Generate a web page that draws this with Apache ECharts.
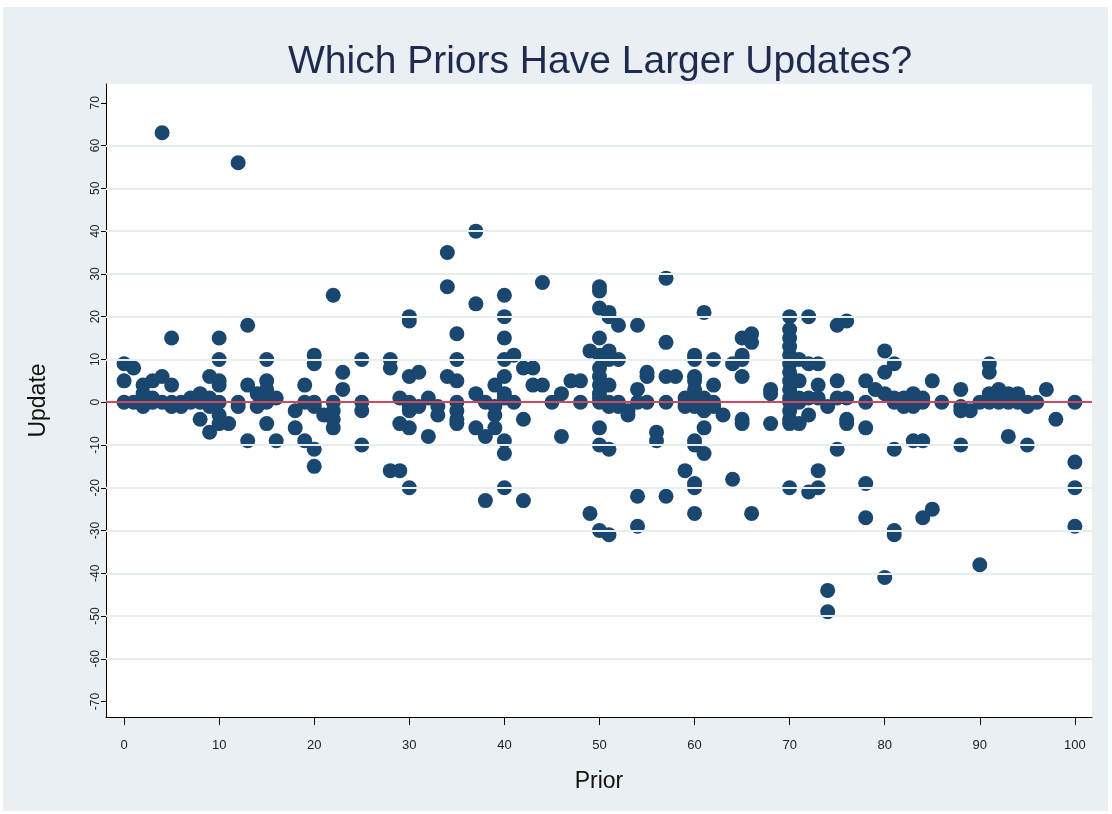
<!DOCTYPE html>
<html>
<head>
<meta charset="utf-8">
<title>Which Priors Have Larger Updates?</title>
<script src="https://cdn.jsdelivr.net/npm/echarts@6/dist/echarts.min.js"></script>
<style>
    html, body { margin: 0; padding: 0; background: #fff; }
    #chart { position: absolute; left: 3px; top: 7px; width: 1105px; height: 804px; }
</style>
</head>
<body>
<div id="chart"></div>
<script>
// prior (x) and update (y), one row per decade of prior
const prior = [
    0, 0, 0, 1, 1, 2, 2, 2, 2, 3, 3, 3, 4, 4, 4, 5, 5, 5, 5, 6, 6, 7, 7, 8, 8, 8, 9, 9, 9, 9, 9,
    10, 10, 10, 10, 10, 10, 10, 11, 12, 12, 12, 13, 13, 13, 14, 14, 15, 15, 15, 15, 15, 16, 16, 18, 18, 19, 19, 19,
    20, 20, 20, 20, 20, 20, 21, 22, 22, 22, 22, 22, 23, 23, 25, 25, 25, 25, 28, 28, 28, 29, 29, 29,
    30, 30, 30, 30, 30, 30, 30, 30, 31, 31, 32, 32, 33, 33, 34, 34, 34, 35, 35, 35, 35, 35, 35, 35, 37, 37, 37, 37, 38, 38, 38, 39, 39, 39, 39,
    40, 40, 40, 40, 40, 40, 40, 40, 40, 40, 41, 41, 42, 42, 42, 43, 43, 44, 44, 45, 46, 46, 47, 48, 48, 49, 49,
    50, 50, 50, 50, 50, 50, 50, 50, 50, 50, 50, 50, 50, 50, 51, 51, 51, 51, 51, 51, 51, 51, 51, 52, 52, 52, 52, 53, 53, 54, 54, 54, 54, 54, 55, 55, 55, 56, 56, 57, 57, 57, 57, 57, 58, 59, 59, 59, 59,
    60, 60, 60, 60, 60, 60, 60, 60, 60, 60, 60, 60, 60, 60, 61, 61, 61, 61, 61, 61, 62, 62, 62, 62, 63, 64, 64, 65, 65, 65, 65, 65, 65, 66, 66, 66, 68, 68, 68,
    70, 70, 70, 70, 70, 70, 70, 70, 70, 70, 70, 70, 70, 70, 70, 71, 71, 71, 71, 71, 72, 72, 72, 72, 72, 73, 73, 73, 73, 73, 74, 74, 74, 75, 75, 75, 75, 76, 76, 76, 76, 78, 78, 78, 78, 78, 79,
    80, 80, 80, 80, 81, 81, 81, 81, 81, 81, 82, 82, 83, 83, 83, 84, 84, 84, 84, 85, 85, 86, 88, 88, 88, 88, 89,
    90, 90, 91, 91, 91, 91, 92, 92, 93, 93, 93, 94, 94, 95, 95, 95, 96, 97, 98, 100, 100, 100, 100
]
const update = [
    9, 5, 0, 8, 0, 4, 2, 0, -1, 5, 1, 0, 63, 6, 0, 15, 4, 0, -1, 0, -1, 1, 0, 2, 0, -4, 6, 1, 0, -1, -7,
    15, 10, 5, 4, 0, -3, -5, -5, 56, 0, -1, 18, 4, -9, 2, -1, 10, 5, 3, 0, -5, 1, -9, -2, -6, 4, 0, -9,
    11, 9, 0, -1, -11, -15, -3, 25, 0, -2, -4, -6, 7, 3, 10, 0, -2, -10, 10, 8, -16, 1, -5, -16,
    20, 19, 6, 0, -1, -2, -6, -20, 7, -1, 1, -8, -1, -3, 35, 27, 6, 16, 10, 5, 0, -2, -4, -5, 40, 23, 2, -6, 0, -8, -23, 4, -1, -3, -6,
    25, 20, 15, 10, 6, 2, 1, -9, -12, -20, 11, 0, 8, -4, -23, 8, 4, 28, 4, 0, 2, -8, 5, 5, 0, 12, -26,
    27, 26, 22, 15, 11, 8, 6, 4, 2, 1, 0, -6, -10, -30, 21, 20, 12, 10, 4, 0, -1, -11, -31, 18, 10, 0, -1, -2, -3, 18, 3, 0, -22, -29, 7, 6, 0, -7, -9, 29, 14, 6, 0, -22, 6, 1, 0, -1, -16,
    11, 10, 6, 5, 3, 2, 1, 0, -1, -9, -10, -19, -20, -26, 21, 1, 0, -2, -6, -12, 10, 4, 0, -1, -3, 9, -18, 15, 11, 10, 6, -4, -5, 16, 14, -26, 3, 2, -5,
    20, 17, 15, 13, 11, 9, 7, 5, 3, 1, 0, -2, -4, -5, -20, 10, 5, 1, 0, -5, 20, 9, 1, -3, -21, 9, 4, 1, -16, -20, -1, -44, -49, 18, 5, 1, -11, 19, 1, -4, -5, 5, 0, -6, -19, -27, 3,
    12, 7, 2, -41, 9, 1, 0, -11, -30, -31, 1, -1, 2, -1, -9, 1, 0, -9, -27, 5, -25, 0, 3, -1, -2, -10, -2,
    0, -38, 9, 7, 2, 0, 3, 0, 2, 0, -8, 2, 0, 0, -1, -10, 0, 3, -4, 0, -14, -20, -29
]
const xTicks = [0, 10, 20, 30, 40, 50, 60, 70, 80, 90, 100]
const yTicks = [-70, -60, -50, -40, -30, -20, -10, 0, 10, 20, 30, 40, 50, 60, 70]
const gridValues = [-60, -50, -40, -30, -20, -10, 0, 10, 20, 30, 40, 50, 60]
const refLine = [0]

if (prior.length !== update.length) console.warn('length mismatch', prior.length, update.length)
const points = prior.map((p, i) => [p, update[i]])

const tickFont = '"Liberation Sans Narrow", "Liberation Sans", Arial, sans-serif'
const textFont = '"Liberation Sans", Arial, sans-serif'

const chart = echarts.init(document.getElementById('chart'))
chart.setOption({
    backgroundColor: '#e9eff2',
    animation: false,
    title: {
        text: 'Which Priors Have Larger Updates?',
        left: 280,
        top: 31,
        textStyle: { fontFamily: textFont, fontSize: 39, fontWeight: 'normal', color: '#1e2b4f' }
    },
    grid: {
        left: 103,
        top: 77,
        width: 986,
        height: 633,
        show: true,
        backgroundColor: '#ffffff',
        borderWidth: 0
    },
    xAxis: {
        type: 'value',
        min: -1.9,
        max: 101.8,
        name: 'Prior',
        nameLocation: 'middle',
        nameGap: 53,
        nameTextStyle: { fontFamily: textFont, fontSize: 23, color: '#111' },
        axisLine: { show: true, onZero: false, lineStyle: { color: '#000', width: 1 } },
        axisTick: { show: true, length: 8, customValues: xTicks, lineStyle: { color: '#000' } },
        axisLabel: { customValues: xTicks, margin: 22, fontFamily: tickFont, fontSize: 13, color: '#222' },
        splitLine: { show: false }
    },
    yAxis: {
        type: 'value',
        min: -73.6,
        max: 74.4,
        name: 'Update',
        nameLocation: 'middle',
        nameGap: 56,
        nameTextStyle: { fontFamily: textFont, fontSize: 23, color: '#111' },
        axisLine: { show: true, onZero: false, lineStyle: { color: '#000', width: 1 } },
        axisTick: { show: true, length: 5, customValues: yTicks, lineStyle: { color: '#000' } },
        axisLabel: { customValues: yTicks, rotate: 90, margin: 4, fontFamily: tickFont, fontSize: 12, color: '#222' },
        splitLine: { show: false }
    },
    series: [
        {
            // light horizontal gridlines
            type: 'line',
            data: [],
            z: 1,
            silent: true,
            markLine: {
                silent: true,
                symbol: ['none', 'none'],
                label: { show: false },
                lineStyle: { color: '#e6eef0', width: 2, type: 'solid' },
                data: gridValues.map(v => ({ yAxis: v }))
            }
        },
        {
            // red reference line at zero
            type: 'line',
            data: [],
            z: 2,
            silent: true,
            markLine: {
                silent: true,
                symbol: ['none', 'none'],
                label: { show: false },
                lineStyle: { color: '#c8102e', width: 1.5, type: 'solid' },
                data: refLine.map(v => ({ yAxis: v }))
            }
        },
        {
            type: 'scatter',
            z: 3,
            symbol: 'circle',
            symbolSize: 15,
            itemStyle: { color: '#1a476f', opacity: 1 },
            data: points
        }
    ]
})
</script>
</body>
</html>
